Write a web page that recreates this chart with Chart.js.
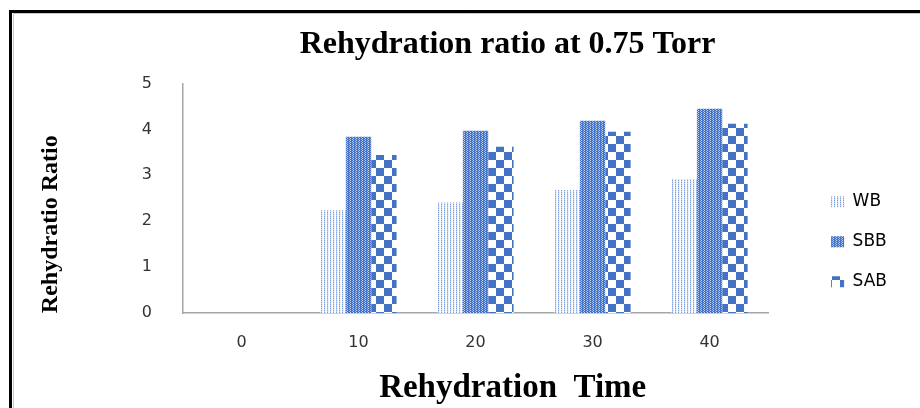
<!DOCTYPE html>
<html>
<head>
<meta charset="utf-8">
<script src="https://cdn.jsdelivr.net/npm/chart.js@4"></script>
<style>
  html, body { margin: 0; padding: 0; background: #fff; }
  #wrap { width: 920px; height: 408px; }
</style>
</head>
<body>
<div id="wrap"><canvas id="myChart" width="920" height="408"></canvas></div>
<script>
const categories = ['0', '10', '20', '30', '40']
const seriesNames = ['WB', 'SBB', 'SAB']
const wb = [0, 2.24, 2.41, 2.68, 2.92]
const sbb = [0, 3.84, 3.97, 4.19, 4.45]
const sab = [0, 3.44, 3.62, 3.95, 4.12]
const yTicks = [0, 1, 2, 3, 4, 5]

// little canvas tiles used as fill patterns
function makePattern(w, h, paint) {
    const c = document.createElement('canvas')
    c.width = w
    c.height = h
    const g = c.getContext('2d')
    g.fillStyle = '#ffffff'
    g.fillRect(0, 0, w, h)
    paint(g)
    return g.createPattern(c, 'repeat')
}

const dotsLight = makePattern(3, 2, g => {
    g.fillStyle = '#7f9fd8'
    g.fillRect(0, 0, 1, 1)
    g.fillStyle = '#c3d2ee'
    g.fillRect(0, 1, 1, 1)
    g.fillStyle = '#eef2fa'
    g.fillRect(1, 0, 1, 2)
})

const dotsDense = makePattern(3, 2, g => {
    g.fillStyle = '#4472c4'
    g.fillRect(0, 0, 3, 2)
    g.fillStyle = '#9fb6e3'
    g.fillRect(1, 1, 1, 1)
    g.fillStyle = '#bfcfee'
    g.fillRect(2, 0, 1, 1)
})

const checker = makePattern(16, 16, g => {
    g.fillStyle = '#4472c4'
    g.fillRect(0, 0, 8, 8)
    g.fillRect(8, 8, 8, 8)
})

const frame = {
    id: 'frame',
    beforeDraw(chart) {
        const ctx = chart.ctx
        ctx.save()
        ctx.fillStyle = '#ffffff'
        ctx.fillRect(0, 0, chart.width, chart.height)
        ctx.strokeStyle = '#c8c8c8'
        ctx.lineWidth = 1
        ctx.beginPath()
        ctx.moveTo(13.5, 408)
        ctx.lineTo(13.5, 13.5)
        ctx.lineTo(920, 13.5)
        ctx.stroke()
        ctx.strokeStyle = '#000000'
        ctx.lineWidth = 3
        ctx.beginPath()
        ctx.moveTo(10.5, 408)
        ctx.lineTo(10.5, 11.5)
        ctx.lineTo(920, 11.5)
        ctx.stroke()
        ctx.restore()
    }
}

const tickFont = { family: 'DejaVu Sans', size: 16 }
const serifBold = size => ({ family: 'Liberation Serif', size: size, weight: 'bold' })

new Chart('myChart', {
    type: 'bar',
    data: {
        labels: categories,
        datasets: [
            { label: seriesNames[0], data: wb, backgroundColor: dotsLight, borderWidth: 0 },
            { label: seriesNames[1], data: sbb, backgroundColor: dotsDense, borderWidth: 0 },
            { label: seriesNames[2], data: sab, backgroundColor: checker, borderWidth: 0 }
        ]
    },
    options: {
        responsive: false,
        animation: false,
        layout: { padding: { left: 20, right: 23, top: 20, bottom: 0 } },
        datasets: { bar: { categoryPercentage: 0.65, barPercentage: 1 } },
        plugins: {
            title: {
                display: true,
                fullSize: false,
                text: '        Rehydration ratio at 0.75 Torr',
                color: '#000',
                font: serifBold(32),
                padding: { top: 6, bottom: 19 }
            },
            legend: {
                position: 'right',
                align: 'end',
                fullSize: false,
                labels: {
                    boxWidth: 13,
                    boxHeight: 11,
                    padding: 23,
                    color: '#000',
                    font: { family: 'DejaVu Sans', size: 17 }
                }
            },
            tooltip: { enabled: false }
        },
        scales: {
            x: {
                grid: { display: false, drawTicks: false },
                border: { color: '#a6a6a6', width: 1.5 },
                ticks: { color: '#333', font: tickFont, padding: 20 },
                title: {
                    display: true,
                    text: '         Rehydration  Time',
                    color: '#000',
                    font: serifBold(33),
                    padding: { top: -4, bottom: 0 }
                }
            },
            y: {
                min: 0,
                max: 5,
                afterBuildTicks: s => { s.ticks = yTicks.map(v => ({ value: v })) },
                grid: { display: false, drawTicks: false },
                border: { color: '#a6a6a6', width: 1.5 },
                ticks: { color: '#333', font: tickFont, padding: 31 },
                afterFit: s => { s.width = 163 },
                title: {
                    display: true,
                    align: 'start',
                    text: 'Rehydratio Ratio',
                    color: '#000',
                    font: serifBold(24),
                    padding: { top: 16, bottom: 10 }
                }
            },
            gap: {
                position: 'right',
                display: true,
                grid: { display: false, drawTicks: false },
                border: { display: false },
                ticks: { display: false },
                afterFit: s => { s.width = 40 }
            }
        }
    },
    plugins: [frame]
})
</script>
</body>
</html>
